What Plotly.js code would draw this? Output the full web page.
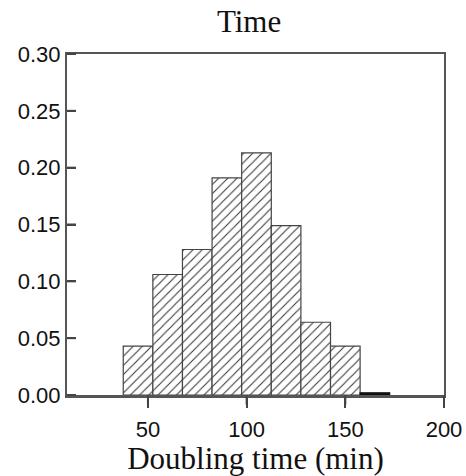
<!DOCTYPE html>
<html>
<head>
<meta charset="utf-8">
<script src="https://cdn.plot.ly/plotly-3.0.1.min.js"></script>
<style>html,body{margin:0;padding:0;background:#fff;}#chart{width:466px;height:476px;}</style>
</head>
<body>
<div id="chart"></div>
<script>
// Histogram bins (doubling time, min) and relative frequencies
var binCenters = [45, 60, 75, 90, 105, 120, 135, 150];
var frequencies = [0.043, 0.106, 0.128, 0.191, 0.213, 0.149, 0.064, 0.043];
// last, nearly empty bin
var tailCenters = [165];
var tailFrequencies = [0.002];
var binWidth = 15;
var yTickVals = [0, 0.05, 0.10, 0.15, 0.20, 0.25, 0.30];
var xTickVals = [50, 100, 150, 200];
var xRange = [9, 200];
var yRange = [0, 0.30];

var trace = {
  type: 'bar',
  x: binCenters,
  y: frequencies,
  width: binCenters.map(function(){ return binWidth; }),
  marker: {
    color: '#ffffff',
    line: { color: '#444', width: 1.2 },
    pattern: { shape: '/', fgcolor: '#3a3a3a', bgcolor: '#ffffff', size: 6.5, solidity: 0.17 }
  },
  hoverinfo: 'skip'
};

var tail = {
  type: 'bar',
  x: tailCenters,
  y: tailFrequencies,
  width: tailCenters.map(function(){ return binWidth; }),
  marker: { color: '#111', line: { color: '#111', width: 1.2 } },
  hoverinfo: 'skip'
};

// y tick marks drawn explicitly at the axis tick values (paper coords from axis range)
var plotW = 466 - 67 - 22;
var tickShapes = [];
yTickVals.forEach(function(v){
  var p = (v - yRange[0]) / (yRange[1] - yRange[0]);
  tickShapes.push({ type: 'line', xref: 'paper', yref: 'paper', x0: 0, x1: 9 / plotW, y0: p, y1: p,
                    line: { color: '#444', width: 2 }, layer: 'above' });
});
// x tick marks (outside, below the axis) as arrow-only annotations
var tickAnnotations = xTickVals.map(function(v){
  return { x: v, y: 0, xref: 'x', yref: 'y', text: '', showarrow: true,
           arrowhead: 0, arrowwidth: 2, arrowcolor: '#444', ax: 0, ay: 11,
           standoff: 0, startstandoff: 0 };
});

var layout = {
  width: 466, height: 476,
  margin: { l: 67, r: 22, t: 54, b: 81 },
  paper_bgcolor: '#ffffff', plot_bgcolor: '#ffffff',
  showlegend: false,
  barmode: 'overlay',
  bargap: 0,
  shapes: tickShapes,
  annotations: tickAnnotations,
  title: {
    text: 'Time',
    font: { family: 'Liberation Serif, Times New Roman, serif', size: 31, color: '#111' },
    x: 0.483, xref: 'paper', xanchor: 'center',
    y: 0.955, yref: 'container', yanchor: 'middle'
  },
  xaxis: {
    range: xRange,
    tickmode: 'array',
    tickvals: xTickVals,
    ticks: 'outside', ticklen: 10, tickwidth: 2, tickcolor: '#444',
    ticklabelstandoff: 3,
    showline: true, linecolor: '#555', linewidth: 2.5, mirror: true,
    showgrid: false, zeroline: false,
    tickfont: { family: 'Liberation Sans, Arial, sans-serif', size: 22, color: '#111' },
    title: {
      text: 'Doubling time (min)',
      font: { family: 'Liberation Serif, Times New Roman, serif', size: 31, color: '#111' },
      standoff: 0
    }
  },
  yaxis: {
    range: yRange,
    tickmode: 'array',
    tickvals: yTickVals,
    tickformat: '.2f',
    ticks: 'inside', ticklen: 9, tickwidth: 2, tickcolor: '#444',
    showline: true, linecolor: '#555', linewidth: 2, mirror: true,
    showgrid: false, zeroline: false,
    tickfont: { family: 'Liberation Sans, Arial, sans-serif', size: 22, color: '#111' }
  }
};

Plotly.newPlot('chart', [trace, tail], layout, { displayModeBar: false, staticPlot: true });
</script>
</body>
</html>
